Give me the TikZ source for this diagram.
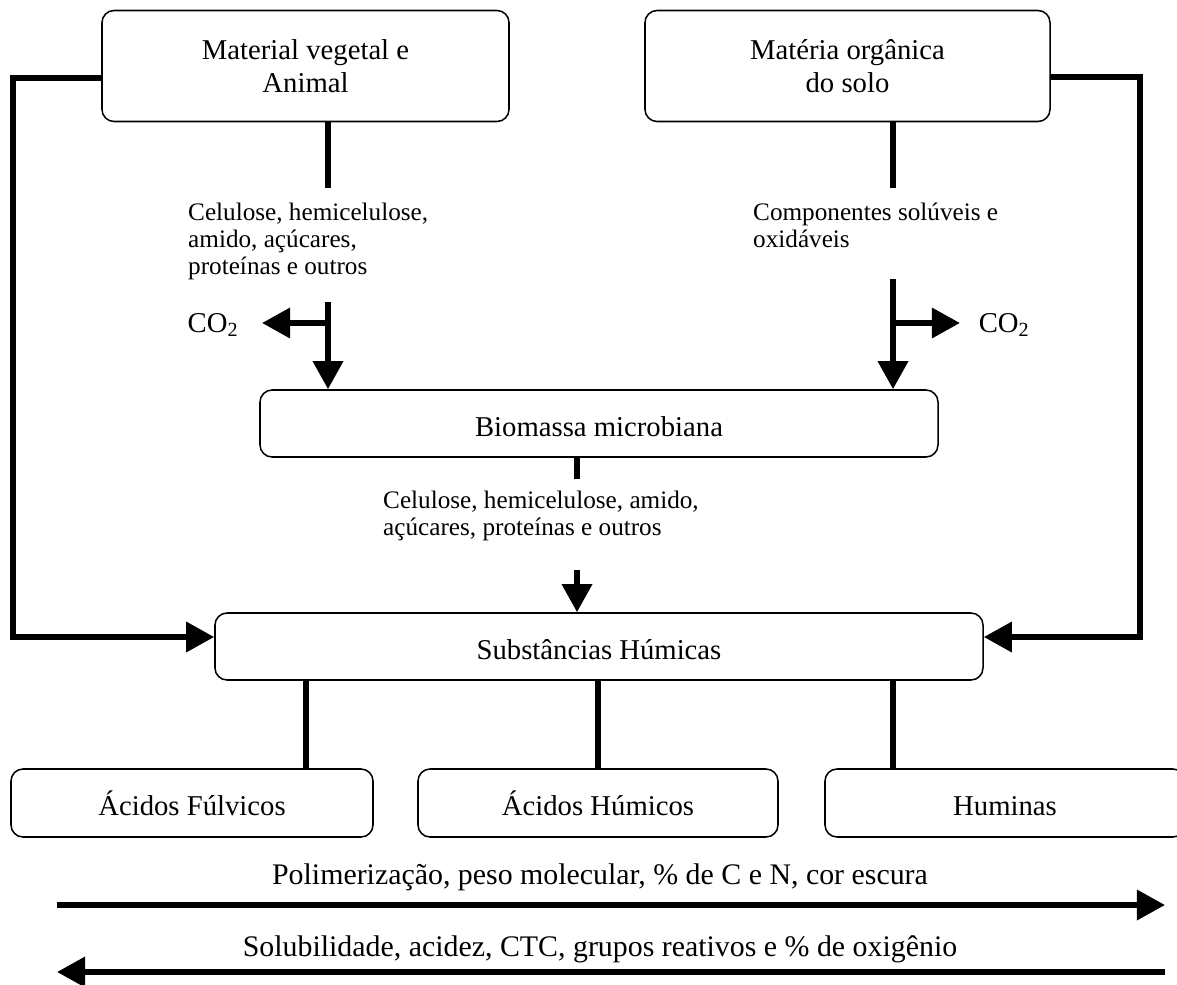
\documentclass[tikz,border=0pt]{standalone}
\usepackage{fontspec}
\setmainfont{Liberation Serif}
\usetikzlibrary{arrows.meta}
\newcommand{\pxu}{0.03cm}
\newcommand{\bigtxt}{\fontsize{24.5}{28}\selectfont}
\newcommand{\smalltxt}{\fontsize{21.5}{23}\selectfont}
\newcommand{\basetxt}{\fontsize{25.5}{28}\selectfont}
\tikzset{
  caixa/.style={draw, line width=1.3pt, rounded corners=0.36cm, inner sep=0pt,
    align=center, font=\bigtxt},
  linha/.style={text height=26pt, text depth=4pt},
  fluxo/.style={line width=5pt, line join=miter},
  seta/.style={fluxo, -{Triangle[length=24pt,width=25pt]}},
  nota/.style={anchor=north west, inner sep=0pt, align=left, font=\smalltxt}
}

\begin{document}
\begin{tikzpicture}[x=0.03cm, y=-0.03cm]
\useasboundingbox (0,0) rectangle (1177,985);

% caixas
\node[caixa, minimum width=407*\pxu, minimum height=111*\pxu] (mat) at (305.5,66) {Material vegetal e\\Animal};
\node[caixa, minimum width=405*\pxu, minimum height=111*\pxu] (mos) at (847.5,66) {Matéria orgânica\\do solo};
\node[caixa, linha, minimum width=678*\pxu, minimum height=67*\pxu] (bio) at (599,423.5) {Biomassa microbiana};
\node[caixa, linha, minimum width=768*\pxu, minimum height=67*\pxu] (hum) at (599,646.5) {Substâncias Húmicas};
\node[caixa, linha, minimum width=362*\pxu, minimum height=68*\pxu] (fulv) at (192,803) {Ácidos Fúlvicos};
\node[caixa, linha, minimum width=360*\pxu, minimum height=68*\pxu] (humic) at (598,803) {Ácidos Húmicos};
\node[caixa, linha, minimum width=360*\pxu, minimum height=68*\pxu] (humin) at (1005,803) {Huminas};

% textos
\node[nota] (txa) at (188,203) {Celulose, hemicelulose,\\amido, açúcares,\\proteínas e outros};
\node[nota] (txb) at (753,203) {Componentes solúveis e\\oxidáveis};
\node[nota] (txc) at (383,491) {Celulose, hemicelulose, amido,\\açúcares, proteínas e outros};
\node[font=\bigtxt, inner sep=0pt] (co2a) at (213,325) {CO\textsubscript{2}};
\node[font=\bigtxt, inner sep=0pt] (co2b) at (1004,325) {CO\textsubscript{2}};

% laterais
\coordinate (lk) at (13,78);
\coordinate (lf) at (13,637);
\coordinate (rk) at (1140,77);
\coordinate (rf) at (1140,637);
\draw[seta] (mat.west |- lk) -- (lk) -- (lf) -- (lf -| hum.west);
\draw[seta] (mos.east |- rk) -- (rk) -- (rf) -- (rf -| hum.east);

% ramo esquerdo
\coordinate (la) at (328,188);
\coordinate (lb) at (328,302);
\coordinate (lc) at (328,323);
\coordinate (ld) at (262,323);
\draw[fluxo] (la |- mat.south) -- (la);
\draw[seta] (lb) -- (lb |- bio.north);
\draw[seta] (lc) -- (ld);

% ramo direito
\coordinate (ra) at (893,188);
\coordinate (rb) at (893,279);
\coordinate (rc) at (893,323);
\coordinate (rd) at (960,323);
\draw[fluxo] (ra |- mos.south) -- (ra);
\draw[seta] (rb) -- (rb |- bio.north);
\draw[seta] (rc) -- (rd);

% centro
\coordinate (ma) at (577,479);
\coordinate (mb) at (577,570);
\draw[fluxo] (ma |- bio.south) -- (ma);
\draw[seta] (mb) -- (mb |- hum.north);

% fracoes
\coordinate (b1) at (306,0);
\coordinate (b2) at (598,0);
\coordinate (b3) at (893,0);
\draw[fluxo] (b1 |- hum.south) -- (b1 |- fulv.north);
\draw[fluxo] (b2 |- hum.south) -- (b2 |- humic.north);
\draw[fluxo] (b3 |- hum.south) -- (b3 |- humin.north);

% setas de baixo
\coordinate (pa) at (57,905);
\coordinate (pb) at (1165,905);
\coordinate (sa) at (1165,972);
\coordinate (sb) at (57,972);
\draw[seta] (pa) -- (pb);
\draw[seta] (sa) -- (sb);
\node[font=\basetxt, inner sep=0pt] (pol) at (600,877) {Polimerização, peso molecular, \% de C e N, cor escura};
\node[font=\basetxt, inner sep=0pt] (sol) at (600,949) {Solubilidade, acidez, CTC, grupos reativos e \% de oxigênio};
\end{tikzpicture}
\end{document}
